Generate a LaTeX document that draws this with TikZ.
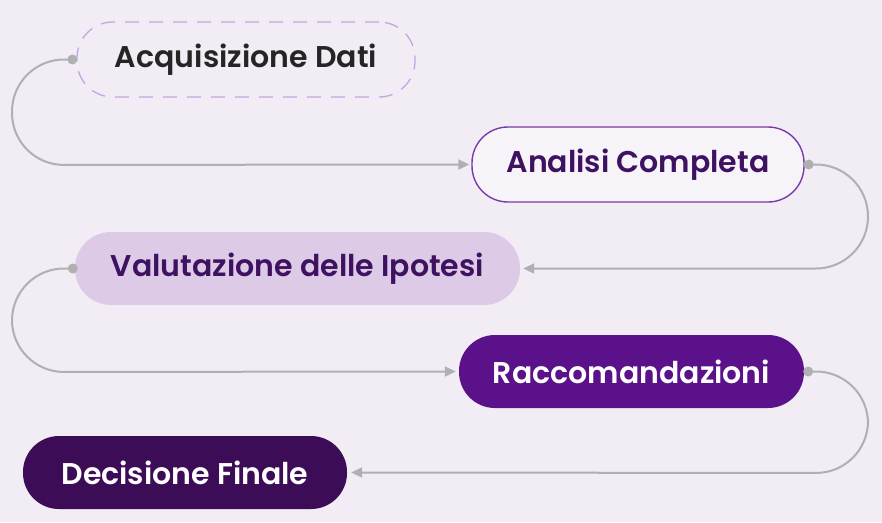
\documentclass[tikz,border=0pt]{standalone}
\usepackage{fontspec}
\setmainfont{Poppins}[BoldFont={Poppins SemiBold}]
\usetikzlibrary{arrows.meta}
\definecolor{bg}{HTML}{F2ECF5}
\definecolor{dashc}{HTML}{C4A6E2}
\definecolor{txtdark}{HTML}{252525}
\definecolor{purpbord}{HTML}{7A3AA8}
\definecolor{purptxt}{HTML}{3E1260}
\definecolor{lilac}{HTML}{DCCAE7}
\definecolor{purpfill}{HTML}{5B118A}
\definecolor{darkfill}{HTML}{3D0C57}
\definecolor{conncol}{HTML}{B0B0B3}
\tikzset{
  x=1pt, y=-1pt,
  stepnode/.style={rounded corners=36pt, inner sep=0pt, font=\fontsize{30}{34}\selectfont\bfseries},
  conn/.style={draw=conncol, line width=2pt, rounded corners=52pt, -{Triangle[length=11pt,width=10pt]}},
  dotc/.style={fill=conncol, circle, inner sep=0pt, minimum size=10pt},
}
\begin{document}
\begin{tikzpicture}
\fill[bg] (0,0) rectangle (882,522);
\useasboundingbox (0,0) rectangle (882,522);
\node[stepnode, draw=dashc, dashed, dash pattern=on 14pt off 10pt, line width=1.3pt, text=txtdark, minimum width=338pt, minimum height=75pt] (n1) at (246,59.5) {Acquisizione Dati};
\node[stepnode, draw=purpbord, line width=1.4pt, fill=bg!60!white, text=purptxt, minimum width=332pt, minimum height=75pt] (n2) at (638,164.5) {Analisi Completa};
\node[stepnode, fill=lilac, text=purptxt, minimum width=445pt, minimum height=73pt] (n3) at (297.5,268.5) {Valutazione delle Ipotesi};
\node[stepnode, fill=purpfill, text=white, minimum width=345pt, minimum height=73pt] (n4) at (631.5,371.5) {Raccomandazioni};
\node[stepnode, fill=darkfill, text=white, minimum width=324pt, minimum height=73pt] (n5) at (185,472.5) {Decisione Finale};
\coordinate (s1) at ([xshift=-4pt]n1.west);
\coordinate (s2) at ([xshift=4pt]n2.east);
\coordinate (s3) at ([xshift=-2pt]n3.west);
\coordinate (s4) at ([xshift=4pt]n4.east);
\draw[conn, shorten >=2pt] (s1) -- (12,59.5) -- (12,165) -- (n2.west);
\draw[conn, shorten >=3pt] (s2) -- (868,164.5) -- (868,268.5) -- (n3.east);
\draw[conn, shorten >=3pt] (s3) -- (12,268.5) -- (12,372) -- (n4.west);
\draw[conn, shorten >=4pt] (s4) -- (868,371.5) -- (868,473) -- (n5.east);
\node[dotc] (d1) at (s1) {};
\node[dotc] (d2) at (s2) {};
\node[dotc] (d3) at (s3) {};
\node[dotc] (d4) at (s4) {};
\end{tikzpicture}
\end{document}
